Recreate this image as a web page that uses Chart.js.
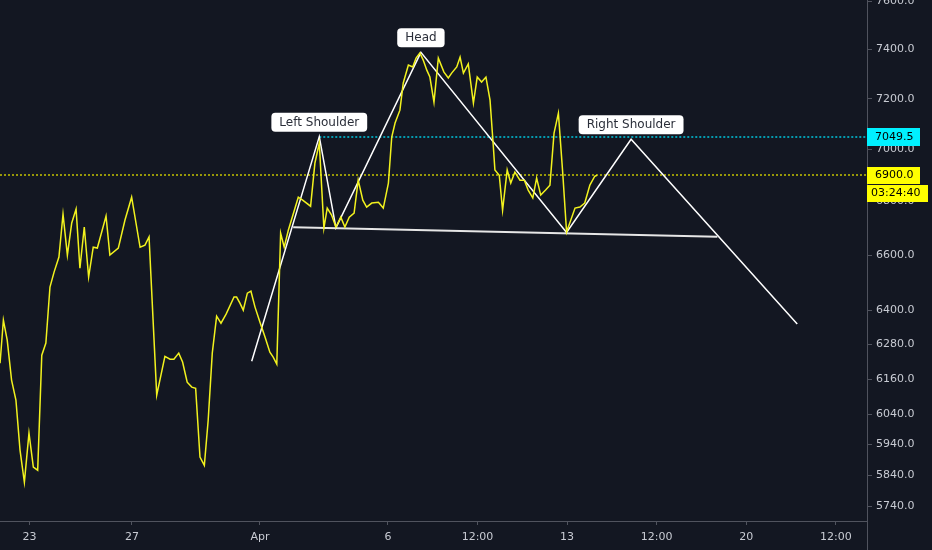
<!DOCTYPE html>
<html>
<head>
<meta charset="utf-8">
<script src="https://cdn.jsdelivr.net/npm/chart.js@4.4.1/dist/chart.umd.min.js"></script>
<style>
html,body{margin:0;padding:0;background:#131722;}
#wrap{width:932px;height:550px;}
</style>
</head>
<body>
<div id="wrap"><canvas id="chart" width="932" height="550"></canvas></div>
<script>
// x values are day numbers counted from 1 March (Apr 1 = 32)
var times = [21.85,21.98,22.13,22.30,22.47,22.63,22.80,22.98,23.15,23.32,23.48,23.64,23.80,23.96,24.15,24.31,24.48,24.65,24.82,24.97,
  25.14,25.31,25.49,25.65,25.99,26.14,26.47,26.73,26.99,27.32,27.51,27.67,27.97,28.29,28.49,28.64,28.83,28.98,29.16,29.34,
  29.49,29.66,29.83,29.98,30.14,30.31,30.48,30.68,30.99,31.09,31.22,31.35,31.51,31.65,31.81,32.00,32.20,32.39,32.52,32.66,
  32.81,32.95,33.11,33.50,33.67,33.98,34.15,34.32,34.50,34.63,34.80,34.97,35.16,35.32,35.49,35.68,35.84,36.02,36.17,36.37,
  36.63,36.82,37.02,37.15,37.28,37.47,37.60,37.80,37.97,38.10,38.25,38.38,38.52,38.64,38.80,38.97,39.19,39.36,39.49,39.69,
  39.82,39.95,40.14,40.34,40.49,40.66,40.83,40.99,41.12,41.18,41.35,41.48,41.66,41.80,41.96,42.16,42.33,42.48,42.66,42.81,
  42.97,43.16,43.33,43.49,43.66,43.83,43.98,44.31,44.50,44.69,44.89,45.08,45.17];
var prices = [6215,6366,6295,6157,6089,5922,5817,5978,5866,5856,6243,6285,6484,6538,6593,6752,6600,6719,6771,6552,
  6704,6520,6629,6626,6745,6600,6626,6730,6816,6629,6637,6667,6106,6239,6229,6229,6250,6219,6150,6133,
  6129,5899,5872,6021,6250,6380,6355,6387,6448,6448,6426,6401,6462,6469,6412,6359,6306,6253,6236,6212,
  6681,6629,6692,6816,6805,6782,6947,7024,6700,6775,6749,6704,6741,6704,6741,6756,6881,6805,6779,6794,
  6797,6775,6870,7048,7103,7154,7263,7336,7328,7364,7385,7356,7315,7287,7186,7364,7307,7283,7303,7328,
  7368,7303,7340,7182,7287,7267,7287,7194,7009,6920,6900,6767,6920,6870,6912,6881,6881,6843,6813,6889,
  6824,6843,6862,7063,7142,6908,6685,6775,6779,6794,6862,6896,6900];

// head and shoulders drawing
var patternDays   = [31.68, 34.32, 34.97, 38.29, 43.98, 46.50, 52.99];
var patternPrices = [6222, 7049.5, 6701, 7388, 6684, 7039, 6352];
var necklineDays   = [33.30, 49.87];
var necklinePrices = [6703, 6668];
var patternLabels = ['Left Shoulder', 'Head', 'Right Shoulder'];
var labelVertex = [1, 3, 5];

var lastPrice = 6900.0;
var levelPrice = 7049.5;
var countdown = '03:24:40';

var yTicks = [5740,5840,5940,6040,6160,6280,6400,6600,6800,7000,7200,7400,7600];
var xTickValues = [23, 27, 32, 37, 40.5, 44, 47.5, 51, 54.5];
var xTickLabels = ['23', '27', 'Apr', '6', '12:00', '13', '12:00', '20', '12:00'];

var BG = '#131722';
var AXIS_TXT = '#c8cbd3';
var FONT = '"DejaVu Sans", sans-serif';

function pts(xs, ys){ return xs.map(function(x,i){ return {x:x, y:ys[i]}; }); }

function roundBox(ctx, x, y, w, h, r){
  ctx.beginPath();
  ctx.moveTo(x+r, y);
  ctx.arcTo(x+w, y, x+w, y+h, r);
  ctx.arcTo(x+w, y+h, x, y+h, r);
  ctx.arcTo(x, y+h, x, y, r);
  ctx.arcTo(x, y, x+w, y, r);
  ctx.closePath();
}

var overlay = {
  id: 'overlay',
  beforeDraw: function(c){
    var ctx = c.ctx;
    ctx.save();
    ctx.fillStyle = BG;
    ctx.fillRect(0, 0, c.width, c.height);
    ctx.restore();
  },
  beforeDatasetsDraw: function(c){
    var ctx = c.ctx, a = c.chartArea, xs = c.scales.x, ys = c.scales.y;
    ctx.save();
    ctx.lineWidth = 1.5;
    ctx.setLineDash([2, 2]);
    // level from left shoulder top
    var yl = Math.round(ys.getPixelForValue(levelPrice));
    ctx.strokeStyle = '#00c8e0';
    ctx.beginPath();
    ctx.moveTo(xs.getPixelForValue(patternDays[1]), yl);
    ctx.lineTo(a.right, yl);
    ctx.stroke();
    // last price
    var yp = Math.round(ys.getPixelForValue(lastPrice));
    ctx.strokeStyle = '#c4c400';
    ctx.beginPath();
    ctx.moveTo(a.left, yp);
    ctx.lineTo(a.right, yp);
    ctx.stroke();
    ctx.restore();
  },
  afterDraw: function(c){
    var ctx = c.ctx, a = c.chartArea, xs = c.scales.x, ys = c.scales.y;
    ctx.save();
    // axis separator running through the time axis
    ctx.strokeStyle = '#50535e';
    ctx.lineWidth = 1;
    ctx.beginPath();
    ctx.moveTo(a.right + 0.5, a.bottom);
    ctx.lineTo(a.right + 0.5, c.height);
    ctx.stroke();

    // pattern labels
    ctx.font = '12px ' + FONT;
    ctx.textBaseline = 'middle';
    ctx.textAlign = 'center';
    labelVertex.forEach(function(vi, i){
      var px = xs.getPixelForValue(patternDays[vi]);
      var py = ys.getPixelForValue(patternPrices[vi]);
      var w = ctx.measureText(patternLabels[i]).width + 16;
      var h = 19;
      roundBox(ctx, px - w/2, py - 5 - h, w, h, 4);
      ctx.fillStyle = '#ffffff';
      ctx.fill();
      ctx.fillStyle = '#2a2e39';
      ctx.fillText(patternLabels[i], px, py - 5 - h/2 + 0.5);
    });

    // price tags on the axis
    ctx.font = '11px ' + FONT;
    ctx.textAlign = 'left';
    var tl = ys.getPixelForValue(levelPrice);
    ctx.fillStyle = '#00f0ff';
    ctx.fillRect(a.right, Math.round(tl) - 9, 53, 18);
    ctx.fillStyle = '#000000';
    ctx.fillText(levelPrice.toFixed(1), a.right + 8, Math.round(tl) + 0.5);

    var tp = ys.getPixelForValue(lastPrice);
    ctx.fillStyle = '#ffff00';
    ctx.fillRect(a.right, Math.round(tp) - 8, 53, 17);
    ctx.fillRect(a.right, Math.round(tp) + 10, 61, 17);
    ctx.fillStyle = '#000000';
    ctx.fillText(lastPrice.toFixed(1), a.right + 8, Math.round(tp) + 0.5);
    ctx.fillText(countdown, a.right + 4, Math.round(tp) + 18.5);
    ctx.restore();
  }
};

new Chart(document.getElementById('chart'), {
  type: 'line',
  data: {
    datasets: [
      {
        label: 'price',
        data: pts(times, prices),
        borderColor: '#f2f21e',
        borderWidth: 1.5,
        pointRadius: 0,
        tension: 0
      },
      {
        label: 'pattern',
        data: pts(patternDays, patternPrices),
        borderColor: '#ffffff',
        borderWidth: 1.5,
        pointRadius: 0,
        tension: 0
      },
      {
        label: 'neckline',
        data: pts(necklineDays, necklinePrices),
        borderColor: '#e6e6e6',
        borderWidth: 2,
        pointRadius: 0,
        tension: 0
      }
    ]
  },
  options: {
    responsive: false,
    animation: false,
    devicePixelRatio: 1,
    layout: { padding: 0 },
    plugins: { legend: { display: false }, tooltip: { enabled: false } },
    scales: {
      x: {
        type: 'linear',
        position: 'bottom',
        min: 21.848,
        max: 55.715,
        afterBuildTicks: function(s){ s.ticks = xTickValues.map(function(v){ return {value: v}; }); },
        afterFit: function(s){ s.height = 29; s.paddingLeft = 0; s.paddingRight = 0; },
        grid: { drawOnChartArea: false, drawTicks: true, tickLength: 4, color: '#50535e' },
        border: { display: true, color: '#50535e' },
        ticks: {
          autoSkip: false,
          maxRotation: 0,
          padding: 6,
          color: AXIS_TXT,
          font: { family: FONT, size: 11 },
          callback: function(v){ var i = xTickValues.indexOf(v); return i >= 0 ? xTickLabels[i] : ''; }
        }
      },
      y: {
        type: 'logarithmic',
        position: 'right',
        min: 5693,
        max: 7606,
        bounds: 'data',
        afterBuildTicks: function(s){ s.ticks = yTicks.map(function(v){ return {value: v}; }); },
        afterFit: function(s){ s.width = 65; s.paddingTop = 0; s.paddingBottom = 0; },
        grid: { drawOnChartArea: false, drawTicks: true, tickLength: 5, color: '#50535e' },
        border: { display: true, color: '#50535e' },
        ticks: {
          padding: 4,
          color: AXIS_TXT,
          font: { family: FONT, size: 11 },
          callback: function(v){ return Number(v).toFixed(1); }
        }
      }
    }
  },
  plugins: [overlay]
});
</script>
</body>
</html>
